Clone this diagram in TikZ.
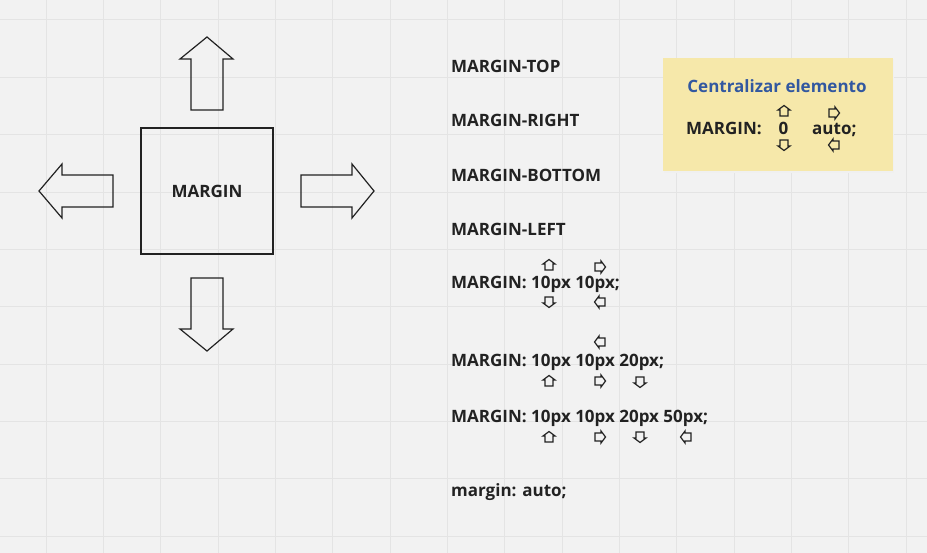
\documentclass[tikz,border=0pt]{standalone}
\usepackage{fontspec}
\setmainfont{Open Sans}
\definecolor{bg}{RGB}{242,242,242}
\definecolor{gridc}{RGB}{228,228,228}
\definecolor{ink}{RGB}{34,34,34}
\definecolor{sticky}{RGB}{246,232,170}
\definecolor{stickyblue}{RGB}{50,88,160}
\begin{document}
\begin{tikzpicture}[x=1pt,y=-1pt,
  lbl/.style={anchor=base west,inner sep=0pt,text=ink,font=\fontsize{17}{17}\selectfont\bfseries},
  outl/.style={draw=ink,line width=1.2pt,line join=miter},
  icon/.style={draw=ink,line width=1.2pt,line join=miter}]
\fill[bg] (0,0) rectangle (927,553);
\useasboundingbox (0,0) rectangle (927,553);
\foreach \k in {0,...,15} \draw[gridc,line width=1pt] ({46+57.35*\k},0) -- ({46+57.35*\k},553);
\foreach \k in {0,...,9} \draw[gridc,line width=1pt] (0,{20+57.35*\k}) -- (927,{20+57.35*\k});
% central box
\node[outl,minimum width=132pt,minimum height=126pt,inner sep=0pt,
  font=\fontsize{17}{17}\selectfont\bfseries,text=ink] (box) at (207,191) {MARGIN};
% big arrows
\draw[outl] (207,37) -- (233,59) -- (223,59) -- (223,110) -- (191,110) -- (191,59) -- (180,59) -- cycle;
\draw[outl] (207,351) -- (233,329) -- (223,329) -- (223,278) -- (191,278) -- (191,329) -- (180,329) -- cycle;
\draw[outl] (39,191) -- (62,164) -- (62,175) -- (113,175) -- (113,207) -- (62,207) -- (62,218) -- cycle;
\draw[outl] (374,191) -- (352,164) -- (352,175) -- (301,175) -- (301,207) -- (352,207) -- (352,218) -- cycle;
% labels
\node[lbl] (t1) at (451,73) {MARGIN-TOP};
\node[lbl] (t2) at (451,127) {MARGIN-RIGHT};
\node[lbl] (t3) at (451,182) {MARGIN-BOTTOM};
\node[lbl] (t4) at (451,236) {MARGIN-LEFT};
\node[lbl] (t5) at (451,289) {MARGIN: 10px 10px;};
\node[lbl] (t6) at (451,367) {MARGIN: 10px 10px 20px;};
\node[lbl] (t7) at (451,422) {MARGIN: 10px 10px 20px 50px;};
\node[lbl] (t8) at (451,496) {margin: auto;};
% sticky note
\fill[black!6] (664,59.5) rectangle (894,173);
\fill[sticky] (663,58) rectangle (893,171);
\node[lbl,anchor=base,text=stickyblue] (c1) at (777,93) {Centralizar elemento};
\node[lbl] (c2) at (686,135) {MARGIN:};
\node[lbl,anchor=base] (c3) at (783.5,135) {0};
\node[lbl] (c4) at (812,135) {auto;};
% small icons
\newcommand\sicon[3]{\draw[icon,shift={(#1,#2)},rotate=#3] (0,-5.5) -- (6,-1) -- (4,-1) -- (4,5) -- (-4,5) -- (-4,-1) -- (-6,-1) -- cycle;}
\sicon{549}{265}{0}
\sicon{600}{267}{-90}
\sicon{549}{302}{180}
\sicon{600}{302}{90}
\sicon{600}{342}{90}
\sicon{549}{381}{0}
\sicon{600}{381}{-90}
\sicon{640}{382}{180}
\sicon{549}{437}{0}
\sicon{600}{437}{-90}
\sicon{640}{437}{180}
\sicon{686}{437}{90}
\sicon{784}{111}{0}
\sicon{834}{113}{-90}
\sicon{784}{145}{180}
\sicon{834}{145}{90}
\end{tikzpicture}
\end{document}
